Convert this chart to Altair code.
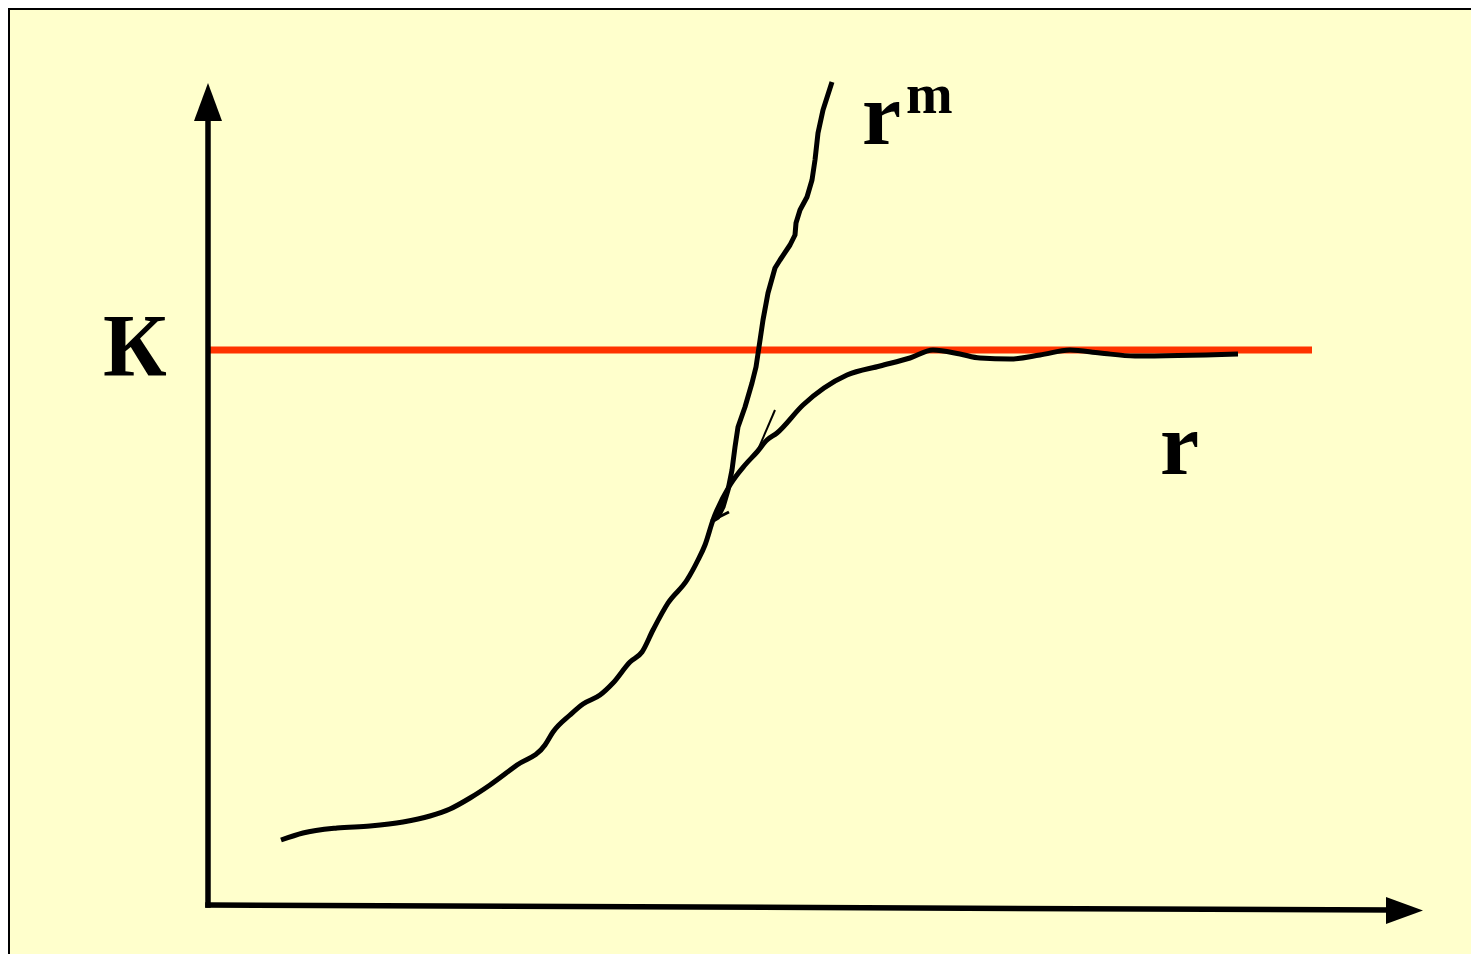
import altair as alt
import pandas as pd

# ---- data (time t, population n); carrying capacity K ----
K = 111
K_end = 110.4

# logistic curve r
r_t = [7.3, 9.5, 12.9, 16.2, 19.5, 22.2, 24.2, 26.2, 28.2, 30.9, 33.7, 34.5, 36.2,
       37.5, 39.2, 40.5, 42.2, 43.4, 44.5, 46.0, 47.9, 49.0, 49.7, 50.5, 52.2, 53.7,
       54.9, 55.9, 56.9, 59.5, 63.9, 67.2, 70.2, 72.5, 75.2, 77.2, 80.2, 83.2, 86.2,
       89.2, 92.7, 103.0]
r_n = [13.0, 14.4, 15.4, 15.8, 16.6, 17.8, 19.2, 21.4, 24.0, 28.0, 32.0, 34.6, 38.0,
       40.2, 42.0, 44.4, 48.6, 50.6, 55.0, 60.4, 65.0, 69.0, 72.0, 77.0, 84.0, 88.0,
       90.6, 93.0, 94.4, 100.0, 106.0, 107.8, 109.4, 111.0, 110.2, 109.4, 109.2, 110.0,
       111.0, 110.4, 109.8, 110.2]

# exponential curve r^m (branches off r)
rm_t = [50.5, 51.0, 51.5, 52.0, 52.4, 52.7, 53.0, 53.7, 54.4, 54.8, 55.1, 55.5, 56.0,
        56.7, 57.2, 58.2, 58.7, 58.8, 59.2, 59.9, 60.4, 60.7, 61.0, 61.5, 62.4]
rm_n = [77.0, 77.6, 79.6, 83.0, 87.0, 91.6, 95.6, 99.6, 104.4, 107.6, 111.6, 117.0,
        122.4, 127.4, 129.0, 132.0, 134.0, 136.4, 139.0, 141.6, 145.0, 149.0, 154.4,
        159.0, 164.6]

# small pen strokes at the branching point
spike_t = [54.9, 56.7]
spike_n = [90.6, 99.0]
nub_t = [50.3, 52.1]
nub_n = [76.8, 78.6]

# axes (origin, ends) and arrowheads
axes_x0 = [0.0, 0.0]
axes_y0 = [0.0, 0.0]
axes_x1 = [118.2, 0.0]
axes_y1 = [-1.0, 156.8]
arrow_up_t, arrow_up_n = [0.0], [160.6]
arrow_right_t, arrow_right_n = [119.65], [-1.1]

# labels
big_labels = ["К", "r", "r"]
big_t = [-10.5, 95.2, 65.4]
big_n = [106.0, 86.2, 152.2]
sup_labels = ["m"]
sup_t = [69.8]
sup_n = [158.4]

# ---- scales ----
X_DOM = [-20.0, 126.3]
Y_DOM = [-9.8, 179.4]
XS = alt.Scale(domain=X_DOM, nice=False, zero=False)
YS = alt.Scale(domain=Y_DOM, nice=False, zero=False)


def xe(f):
    return alt.X(f, type="quantitative", scale=XS, axis=None)


def ye(f):
    return alt.Y(f, type="quantitative", scale=YS, axis=None)


red = alt.Chart(pd.DataFrame({"a": [0.0], "b": [K_end], "k": [K]})).mark_rule(
    color="#FF3300", strokeWidth=7
).encode(x=xe("a"), x2="b", y=ye("k"))

r_df = pd.DataFrame({"t": r_t, "n": r_n, "i": list(range(len(r_t)))})
r_line = alt.Chart(r_df).mark_line(
    color="black", strokeWidth=5, strokeJoin="round", interpolate="monotone"
).encode(x=xe("t"), y=ye("n"), order="i:Q")

rm_df = pd.DataFrame({"t": rm_t, "n": rm_n, "i": list(range(len(rm_t)))})
rm_line = alt.Chart(rm_df).mark_line(
    color="black", strokeWidth=5, strokeJoin="round"
).encode(x=xe("t"), y=ye("n"), order="i:Q")

spike = alt.Chart(pd.DataFrame({"t": spike_t, "n": spike_n})).mark_line(
    color="black", strokeWidth=2
).encode(x=xe("t"), y=ye("n"))
nub = alt.Chart(pd.DataFrame({"t": nub_t, "n": nub_n})).mark_line(
    color="black", strokeWidth=3
).encode(x=xe("t"), y=ye("n"))

axes = alt.Chart(pd.DataFrame({"x0": axes_x0, "y0": axes_y0, "x1": axes_x1, "y1": axes_y1})).mark_rule(
    color="black", strokeWidth=5.5, strokeCap="square"
).encode(x=xe("x0"), y=ye("y0"), x2="x1", y2="y1")

arrow_up = alt.Chart(pd.DataFrame({"t": arrow_up_t, "n": arrow_up_n})).mark_point(
    shape="M0,-1L0.737,1L-0.737,1Z", size=38 * 38, filled=True, color="black", opacity=1, strokeWidth=0
).encode(x=xe("t"), y=ye("n"))
arrow_right = alt.Chart(pd.DataFrame({"t": arrow_right_t, "n": arrow_right_n})).mark_point(
    shape="M1,0L-1,0.73L-1,-0.73Z", size=37 * 37, filled=True, color="black", opacity=1, strokeWidth=0
).encode(x=xe("t"), y=ye("n"))

big_text = alt.Chart(pd.DataFrame({"t": big_t, "n": big_n, "s": big_labels})).mark_text(
    font="Liberation Serif", fontWeight="bold", fontSize=88, align="left", baseline="alphabetic", color="black"
).encode(x=xe("t"), y=ye("n"), text="s:N")
sup_text = alt.Chart(pd.DataFrame({"t": sup_t, "n": sup_n, "s": sup_labels})).mark_text(
    font="Liberation Serif", fontWeight="bold", fontSize=56, align="left", baseline="alphabetic", color="black"
).encode(x=xe("t"), y=ye("n"), text="s:N")

# frame edges (top and left)
frame = alt.Chart(pd.DataFrame({
    "x0": [X_DOM[0], X_DOM[0] + 0.1],
    "y0": [Y_DOM[1] - 0.2, Y_DOM[0]],
    "x1": [X_DOM[1], X_DOM[0] + 0.1],
    "y1": [Y_DOM[1] - 0.2, Y_DOM[1]],
})).mark_rule(color="black", strokeWidth=2).encode(x=xe("x0"), y=ye("y0"), x2="x1", y2="y1")

chart = alt.layer(
    red, r_line, rm_line, spike, nub, axes, arrow_up, arrow_right, big_text, sup_text, frame
).properties(
    width=1463, height=946, background="#FFFFCC", padding=0,
    autosize=alt.AutoSizeParams(type="none")
).configure_view(strokeWidth=0)

chart.save("out.html", embed_options={"renderer": "svg", "actions": False})
